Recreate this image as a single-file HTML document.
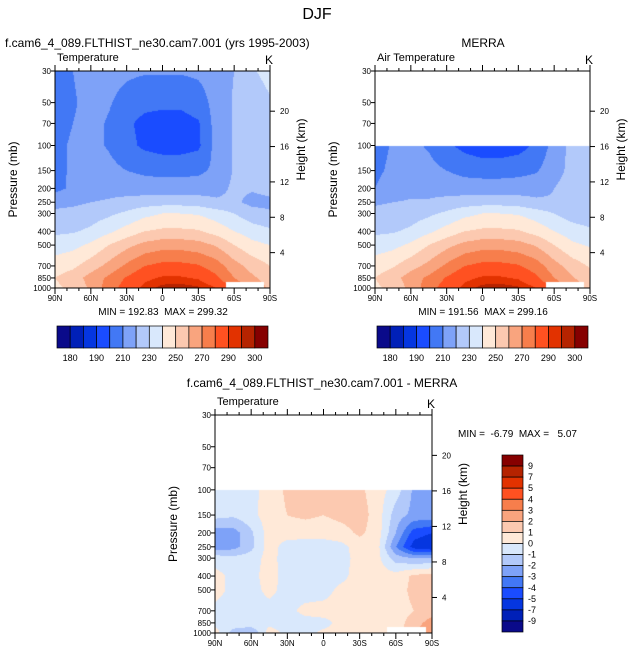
<!DOCTYPE html>
<html><head><meta charset="utf-8">
<style>
body{margin:0;background:#fff;width:635px;height:656px;overflow:hidden;position:relative;font-family:"Liberation Sans",sans-serif}
canvas{position:absolute}
svg{position:absolute;left:0;top:0}
text{white-space:pre}
</style></head><body>
<canvas id="c1" width="215" height="217" style="left:55px;top:71px"></canvas>
<canvas id="c2" width="215" height="217" style="left:375px;top:71px"></canvas>
<canvas id="c3" width="217" height="218" style="left:215px;top:415px"></canvas>
<svg id="s" width="635" height="656" xmlns="http://www.w3.org/2000/svg"></svg>
<script>
// ---- data ----
const lats=[90,75,60,45,30,15,0,-15,-30,-45,-60,-75,-90];
const levels=[1000,850,700,500,400,300,250,200,150,100,70,50,30];
const modelT=[
[248,252,262,275,285,292,297,298,296,290,278,268,258],
[250,255,264,272,281,288,291,291,289,282,270,262,255],
[245,248,255,263,272,280,283,283,281,275,264,256,250],
[235,237,242,250,257,263,266,266,264,259,250,243,240],
[228,229,232,238,244,250,252,252,251,246,240,235,232],
[222,223,225,228,232,237,240,240,239,235,230,224,221],
[217,218,220,221,223,225,226,226,225,222,222,217,218],
[207,212,216,217,216,215,215,215,215,216,222,221,223],
[208,211,214,213,210,208,207,207,208,212,221,222,223],
[208,211,213,209,203,198,196,196,198,214,221,223,224],
[207,210,213,209,202,197,196,196,199,214,221,223,226],
[206,209,213,211,206,203,202,202,205,214,221,225,229],
[206,210,214,214,212,211,211,211,212,215,220,229,233]];
const merraLevels=[1000,850,700,500,400,300,250,200,150,100];
const merraT=[
[248,253,263,276,285,292,297,298,296,290,278,267,256],
[250,256,265,272,281,288,291,291,289,282,270,261,254],
[245,249,256,263,272,280,283,283,281,275,264,255,249],
[235,237,242,250,257,263,266,266,264,259,250,242,239],
[228,229,232,238,244,250,252,252,251,246,240,235,232],
[222,223,225,228,232,237,240,240,239,235,230,225,223],
[219,220,221,221,223,225,226,226,225,222,221,220,222],
[210,214,217,217,216,215,215,215,215,216,220,225,227],
[208,212,214,213,210,207,206,206,207,209,216,223,225],
[206,211,212,209,202,197,194,194,196,202,214,223,225]];
const diffLevels=[1000,850,700,500,400,300,250,200,150,100];
const diffT=[
[0.5,-1.5,-2,0.5,-0.3,-0.3,0.2,0.3,0.3,0.2,0.5,2,3],
[-0.3,-0.3,-0.3,-0.3,-0.5,-0.4,-0.3,0.3,0.4,0.3,0.5,1.5,2.5],
[-0.3,-0.4,-0.4,-0.4,-0.3,0.3,0.4,0.4,0.4,0.3,0.5,1,1.5],
[0.4,-0.3,-0.4,0.3,-0.4,-0.5,-0.4,0.3,0.5,0.4,0.5,1.3,1.5],
[0.4,-0.3,-0.3,0.4,-0.4,-0.5,-0.5,-0.3,0.5,0.5,0.4,1.2,1.5],
[-0.5,-0.7,-0.5,0.4,-0.5,-0.5,-0.6,-0.4,0.4,0.3,-1.5,-2,-2],
[-2.5,-2.4,-1.3,0.5,-0.5,-0.5,-0.5,-0.3,0.5,0.3,-3,-5.5,-6],
[-2.6,-2.5,-1.2,0.5,0.5,0.4,0.4,0.6,1.2,0.5,-2,-4.5,-5],
[-0.6,-0.8,-0.3,0.5,1.0,1.2,1.0,1.3,1.5,0.5,-1.5,-2.3,-2.3],
[-0.5,-0.5,-0.3,0.4,1.2,1.3,1.2,1.3,1.2,0.5,-0.5,-2.2,-2.5]];
const tBounds=[180,185,190,200,210,220,230,240,250,260,270,280,290,295,300];
const tLabels=["180","190","210","230","250","270","290","300"];
const dBounds=[-9,-7,-5,-4,-3,-2,-1,0,1,2,3,4,5,7,9];
const dLabels=["9","7","5","4","3","2","1","0","-1","-2","-3","-4","-5","-7","-9"];
const colors=["#0a0a8a","#0020b8","#0536e0","#1a4cff","#4278f5","#7ea2f8","#b2c9fa","#d9e8fc","#ffe9d8","#fcc9b0","#f9a47e","#f77e4c","#ff5121","#e23200","#b52300","#860000"];
const pTicks=[30,50,70,100,150,200,250,300,400,500,700,850,1000];
const zTicks=[4,8,12,16,20];
const latTicks=["90N","60N","30N","0","30S","60S","90S"];
// ---- helpers ----
const NS="http://www.w3.org/2000/svg", S=document.getElementById('s');
function mk(t,a,p){const e=document.createElementNS(NS,t);for(const k in a)e.setAttribute(k,a[k]);(p||S).appendChild(e);return e;}
function txt(x,y,s,sz,anchor,extra){const e=mk('text',Object.assign({x:x,y:y,'font-size':sz,'text-anchor':anchor||'start',fill:'#000'},extra||{}));e.textContent=s;return e;}
function colorFor(v,b){let i=0;while(i<b.length&&v>=b[i])i++;return colors[i];}
function yOfP(p,top,h){return top+h-h*Math.log(1000/p)/Math.log(1000/30);}
function interp(grid,levs,lat,p){
  const fx=(90-lat)/15;let i=Math.min(Math.floor(fx),lats.length-2);const tx=fx-i;
  const lp=Math.log(p);let j=0;while(j<levs.length-2&&Math.log(levs[j+1])>lp)j++;
  const ty=(Math.log(levs[j])-lp)/(Math.log(levs[j])-Math.log(levs[j+1]));
  const a=grid[j][i]*(1-tx)+grid[j][i+1]*tx,b=grid[j+1][i]*(1-tx)+grid[j+1][i+1]*tx;
  return a*(1-ty)+b*ty;}
function field(id,grid,levs,bounds){
  const c=document.getElementById(id),g=c.getContext('2d'),W=c.width,H=c.height;
  const pmin=levs[levs.length-1];
  for(let y=0;y<H;y++){
    const pp=1000/Math.exp((H-(y+0.5))/H*Math.log(1000/30));
    if(pp<pmin-0.01)continue;
    for(let x=0;x<W;x++){const lat=90-180*(x+0.5)/W;
      g.fillStyle=colorFor(interp(grid,levs,lat,pp),bounds);g.fillRect(x,y,1,1);}}
  g.fillStyle="#fff";g.fillRect(Math.round(W*143/180),H-6,Math.round(W*32/180),6);
}
function panel(L,T,W,H,sub){
  const g=mk('g',{});
  mk('rect',{x:L,y:T,width:W,height:H,fill:'none',stroke:'#000','stroke-width':1},g);
  pTicks.forEach(p=>{const yy=yOfP(p,T,H);
    mk('line',{x1:L-4,y1:yy,x2:L,y2:yy,stroke:'#000'},g);
    txt(L-4,yy+3,String(p),8,'end',{});});
  zTicks.forEach(z=>{const p=1000*Math.exp(-z/7);const yy=yOfP(p,T,H);
    mk('line',{x1:L+W,y1:yy,x2:L+W+5,y2:yy,stroke:'#000'},g);
    txt(L+W+10,yy+3,String(z),8,'start',{});});
  for(let k=0;k<=18;k++){const x=L+W*k/18;const len=k%3==0?6:3;
    mk('line',{x1:x,y1:T+H,x2:x,y2:T+H+len,stroke:'#000'},g);
    mk('line',{x1:x,y1:T,x2:x,y2:T-len,stroke:'#000'},g);}
  latTicks.forEach((s,k)=>txt(L+W*k/6,T+H+13,s,8,'middle',{}));
  txt(L+2,T-10,sub,11,'start',{});
  txt(L+W-1,T-7,'K',12,'middle',{});
  txt(L-38,T+H/2,'Pressure (mb)',12,'middle',{transform:`rotate(-90 ${L-38} ${T+H/2})`,});
  txt(L+W+35,T+H/2-30,'Height (km)',12,'middle',{transform:`rotate(-90 ${L+W+35} ${T+H/2-30})`,});
}
function hbar(L,T,W,H){const n=colors.length,bw=W/n;
  colors.forEach((c,i)=>mk('rect',{x:L+i*bw,y:T,width:bw,height:H,fill:c,stroke:'#000','stroke-width':0.7,}));
  tLabels.forEach((s,k)=>txt(L+bw*(1+2*k),T+H+13,s,9,'middle',{}));}
// ---- draw ----
field('c1',modelT,levels,tBounds);
field('c2',merraT,merraLevels,tBounds);
field('c3',diffT,diffLevels,dBounds);
txt(317,19,'DJF',16,'middle',{});
txt(5,47,'f.cam6_4_089.FLTHIST_ne30.cam7.001 (yrs 1995-2003)',12,'start',{});
txt(483,47,'MERRA',12,'middle',{});
txt(322,387,'f.cam6_4_089.FLTHIST_ne30.cam7.001 - MERRA',12,'middle',{});
panel(55,71,215,217,'Temperature');
panel(375,71,215,217,'Air Temperature');
panel(215,415,217,218,'Temperature');
txt(163,315,'MIN = 192.83  MAX = 299.32',10,'middle',{});
txt(483,315,'MIN = 191.56  MAX = 299.16',10,'middle',{});
txt(458,437,'MIN =  -6.79  MAX =   5.07',10,'start',{});
hbar(57,326,211,22); hbar(377,326,211,22);
(function(){const L=502,T=455,W=21,H=177,n=colors.length,bh=H/n;
  colors.slice().reverse().forEach((c,i)=>mk('rect',{x:L,y:T+i*bh,width:W,height:bh,fill:c,stroke:'#000','stroke-width':0.7,}));
  dLabels.forEach((s,k)=>txt(L+W+5,T+bh*(k+1)+3,s,9,'start',{}));})();
</script>
</body></html>
